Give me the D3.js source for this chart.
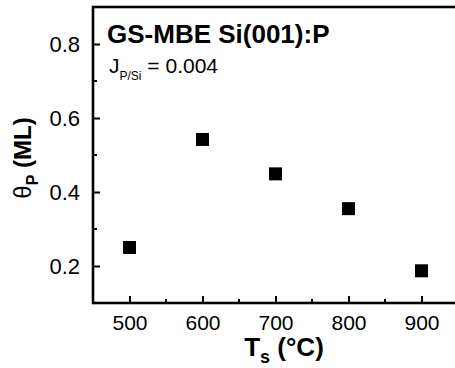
<!DOCTYPE html>
<html>
<head>
<meta charset="utf-8">
<script src="https://cdn.jsdelivr.net/npm/d3@7"></script>
<style>
  body { margin: 0; background: #fff; }
  text { font-family: "Liberation Sans", Arial, sans-serif; fill: #000; }
</style>
</head>
<body>
<svg id="chart" width="455" height="368"></svg>
<script>
// substrate temperature (°C) and P coverage (ML)
const temps = [500, 600, 700, 800, 900]
const coverage = [0.25, 0.542, 0.449, 0.355, 0.187]
const xTicks = [500, 600, 700, 800, 900]
const yTicks = [0.2, 0.4, 0.6, 0.8]

const width = 455
const height = 368
const margin = { top: 7, right: -3, bottom: 65, left: 93 }

const svg = d3.select("#chart")

const x = d3.scaleLinear()
  .domain([450, 950])
  .range([margin.left, width - margin.right])

const y = d3.scaleLinear()
  .domain([0.1, 0.9])
  .range([height - margin.bottom, margin.top])

// frame
svg.append("rect")
  .attr("x", x(450))
  .attr("y", y(0.9))
  .attr("width", x(950) - x(450))
  .attr("height", y(0.1) - y(0.9))
  .attr("fill", "none")
  .attr("stroke", "#000")
  .attr("stroke-width", 2.6)

// minor ticks
const xMinor = d3.range(550, 950, 100)
const yMinor = [0.3, 0.5, 0.7]

svg.selectAll(".xminor")
  .data(xMinor)
  .enter()
  .append("line")
  .attr("x1", d => x(d)).attr("x2", d => x(d))
  .attr("y1", y(0.1)).attr("y2", y(0.1) - 4)
  .attr("stroke", "#000").attr("stroke-width", 2)

svg.selectAll(".yminor")
  .data(yMinor)
  .enter()
  .append("line")
  .attr("x1", x(450)).attr("x2", x(450) + 4)
  .attr("y1", d => y(d)).attr("y2", d => y(d))
  .attr("stroke", "#000").attr("stroke-width", 2)

// x axis
const xAxis = svg.append("g")
  .attr("transform", "translate(0," + y(0.1) + ")")
  .call(d3.axisBottom(x).tickValues(xTicks).tickSizeInner(-7).tickSizeOuter(0).tickPadding(12))
xAxis.select(".domain").remove()
xAxis.selectAll("line").attr("stroke-width", 2)
xAxis.selectAll("text")
  .style("font-size", "21px")
  .style("font-family", "Liberation Sans, Arial, sans-serif")

// y axis
const yAxis = svg.append("g")
  .attr("transform", "translate(" + x(450) + ",0)")
  .call(d3.axisLeft(y).tickValues(yTicks).tickFormat(d3.format(".1f")).tickSizeInner(-7).tickSizeOuter(0).tickPadding(13))
yAxis.select(".domain").remove()
yAxis.selectAll("line").attr("stroke-width", 2)
yAxis.selectAll("text")
  .style("font-size", "22px")
  .style("font-family", "Liberation Sans, Arial, sans-serif")

// data points
const size = 13
svg.selectAll(".pt")
  .data(temps)
  .enter()
  .append("rect")
  .attr("x", d => x(d) - size / 2)
  .attr("y", (d, i) => y(coverage[i]) - size / 2)
  .attr("width", size)
  .attr("height", size)
  .attr("fill", "#000")

// annotation
svg.append("text")
  .attr("x", 107).attr("y", 43)
  .style("font-size", "26px")
  .style("font-weight", "bold")
  .text("GS-MBE Si(001):P")

const j = svg.append("text")
  .attr("x", 109).attr("y", 73)
  .style("font-size", "21px")
j.append("tspan").text("J")
j.append("tspan").attr("dy", 7).style("font-size", "12px").text("P/Si")
j.append("tspan").attr("dy", -7).text(" = 0.004")

// axis titles
const xt = svg.append("text")
  .attr("x", 284).attr("y", 356)
  .attr("text-anchor", "middle")
  .style("font-size", "26px")
  .style("font-weight", "bold")
xt.append("tspan").text("T")
xt.append("tspan").attr("dy", 7).style("font-size", "18px").text("s")
xt.append("tspan").attr("dy", -7).text(" (°C)")

const yt = svg.append("text")
  .attr("transform", "translate(31," + 158 + ") rotate(-90)")
  .attr("text-anchor", "middle")
  .style("font-size", "24px")
  .style("font-weight", "bold")
yt.append("tspan").style("font-weight", "normal").text("θ")
yt.append("tspan").attr("dy", 7).style("font-size", "16px").text("P")
yt.append("tspan").attr("dy", -7).text(" (ML)")
</script>
</body>
</html>
